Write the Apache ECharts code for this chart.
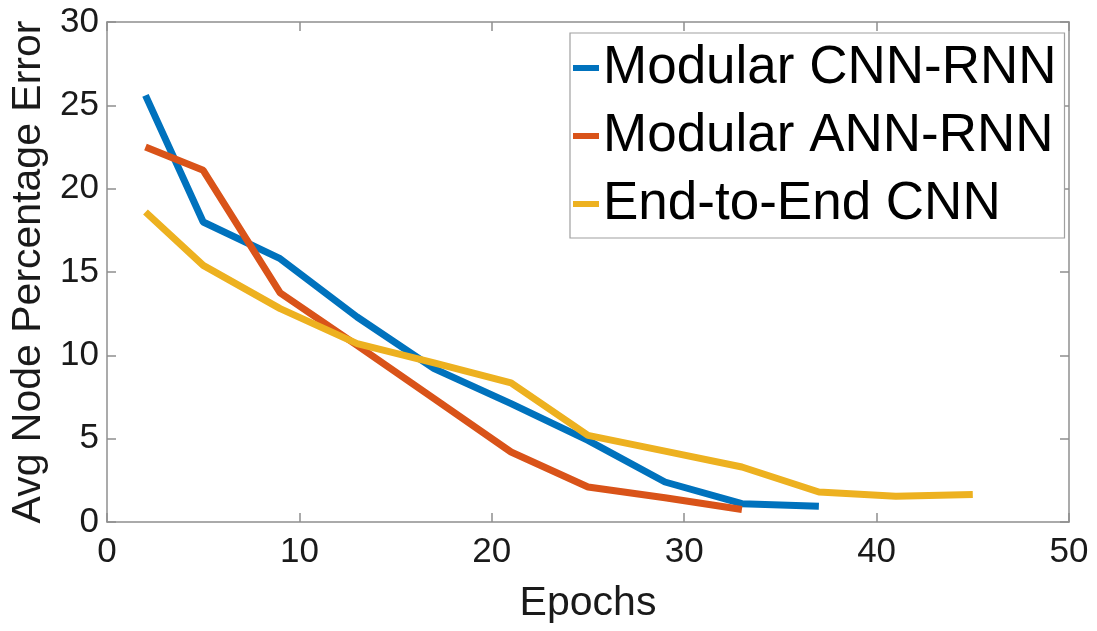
<!DOCTYPE html>
<html>
<head>
<meta charset="utf-8">
<script src="https://cdn.jsdelivr.net/npm/echarts@6/dist/echarts.min.js"></script>
<style>
    html, body { margin: 0; padding: 0; background: #fff; }
    #chart { width: 1097px; height: 631px; }
</style>
</head>
<body>
<div id="chart"></div>
<script>
    // 数据
    var seriesNames = ['Modular CNN-RNN', 'Modular ANN-RNN', 'End-to-End CNN']
    var cnnRnnEpochs = [2, 5, 9, 13, 17, 21, 25, 29, 33, 37]
    var cnnRnnError = [25.6, 18.0, 15.8, 12.3, 9.2, 7.1, 4.9, 2.4, 1.1, 0.95]
    var annRnnEpochs = [2, 5, 9, 13, 17, 21, 25, 29, 33]
    var annRnnError = [22.5, 21.1, 13.75, 10.6, 7.4, 4.2, 2.1, 1.45, 0.75]
    var e2eEpochs = [2, 5, 9, 13, 17, 21, 25, 29, 33, 37, 41, 45]
    var e2eError = [18.6, 15.4, 12.8, 10.7, 9.55, 8.35, 5.2, 4.25, 3.3, 1.8, 1.55, 1.65]
    var colors = ['#0072BD', '#D95319', '#EDB120']

    function pairs(xs, ys) {
        return xs.map(function (x, i) { return [x, ys[i]] })
    }

    var font = 'Liberation Sans, Arial, sans-serif'
    var axisColor = '#8f8f8f'

    // 上、右两条镜像轴，只画刻度
    function mirrorAxis(pos, max, interval) {
        return {
            type: 'value',
            position: pos,
            min: 0,
            max: max,
            interval: interval,
            axisLine: { show: true, onZero: false, lineStyle: { color: axisColor, width: 1.5 } },
            axisTick: { show: true, inside: true, length: 9, lineStyle: { color: axisColor, width: 1.5 } },
            axisLabel: { show: false },
            splitLine: { show: false }
        }
    }

    var chart = echarts.init(document.getElementById('chart'))
    chart.setOption({
        animation: false,
        backgroundColor: '#fff',
        color: colors,
        grid: {
            left: 104,
            right: 28,
            top: 22,
            bottom: 109
        },
        legend: {
            orient: 'vertical',
            left: 570,
            top: 33,
            icon: 'rect',
            itemWidth: 26,
            itemHeight: 6,
            itemGap: 10,
            padding: [6, 8, 5, 3],
            borderColor: '#a0a0a0',
            borderWidth: 1.2,
            backgroundColor: '#fff',
            textStyle: {
                fontFamily: font,
                fontSize: 53,
                lineHeight: 58,
                color: '#000',
                padding: [0, 0, 0, -1]
            },
            data: seriesNames
        },
        xAxis: [
            {
                type: 'value',
                min: 0,
                max: 50,
                interval: 10,
                name: 'Epochs',
                nameLocation: 'middle',
                nameGap: 61,
                nameTextStyle: { fontFamily: font, fontSize: 41, color: '#1a1a1a' },
                axisLine: { onZero: false, lineStyle: { color: axisColor, width: 1.5 } },
                axisTick: { inside: true, length: 9, lineStyle: { color: axisColor, width: 1.5 } },
                axisLabel: { margin: 13, fontFamily: font, fontSize: 35, color: '#1a1a1a' },
                splitLine: { show: false }
            },
            mirrorAxis('top', 50, 10)
        ],
        yAxis: [
            {
                type: 'value',
                min: 0,
                max: 30,
                interval: 5,
                name: 'Avg Node Percentage Error',
                nameLocation: 'middle',
                nameGap: 58,
                nameTextStyle: { fontFamily: font, fontSize: 41, color: '#1a1a1a' },
                axisLine: { show: true, onZero: false, lineStyle: { color: axisColor, width: 1.5 } },
                axisTick: { show: true, inside: true, length: 9, lineStyle: { color: axisColor, width: 1.5 } },
                axisLabel: { margin: 8, fontFamily: font, fontSize: 35, color: '#1a1a1a' },
                splitLine: { show: false }
            },
            mirrorAxis('right', 30, 5)
        ],
        series: [
            {
                name: seriesNames[0],
                type: 'line',
                symbol: 'none',
                lineStyle: { width: 7 },
                data: pairs(cnnRnnEpochs, cnnRnnError),
                z: 3
            },
            {
                name: seriesNames[1],
                type: 'line',
                symbol: 'none',
                lineStyle: { width: 7 },
                data: pairs(annRnnEpochs, annRnnError),
                z: 4
            },
            {
                name: seriesNames[2],
                type: 'line',
                symbol: 'none',
                lineStyle: { width: 7 },
                data: pairs(e2eEpochs, e2eError),
                z: 5
            }
        ]
    })
</script>
</body>
</html>
